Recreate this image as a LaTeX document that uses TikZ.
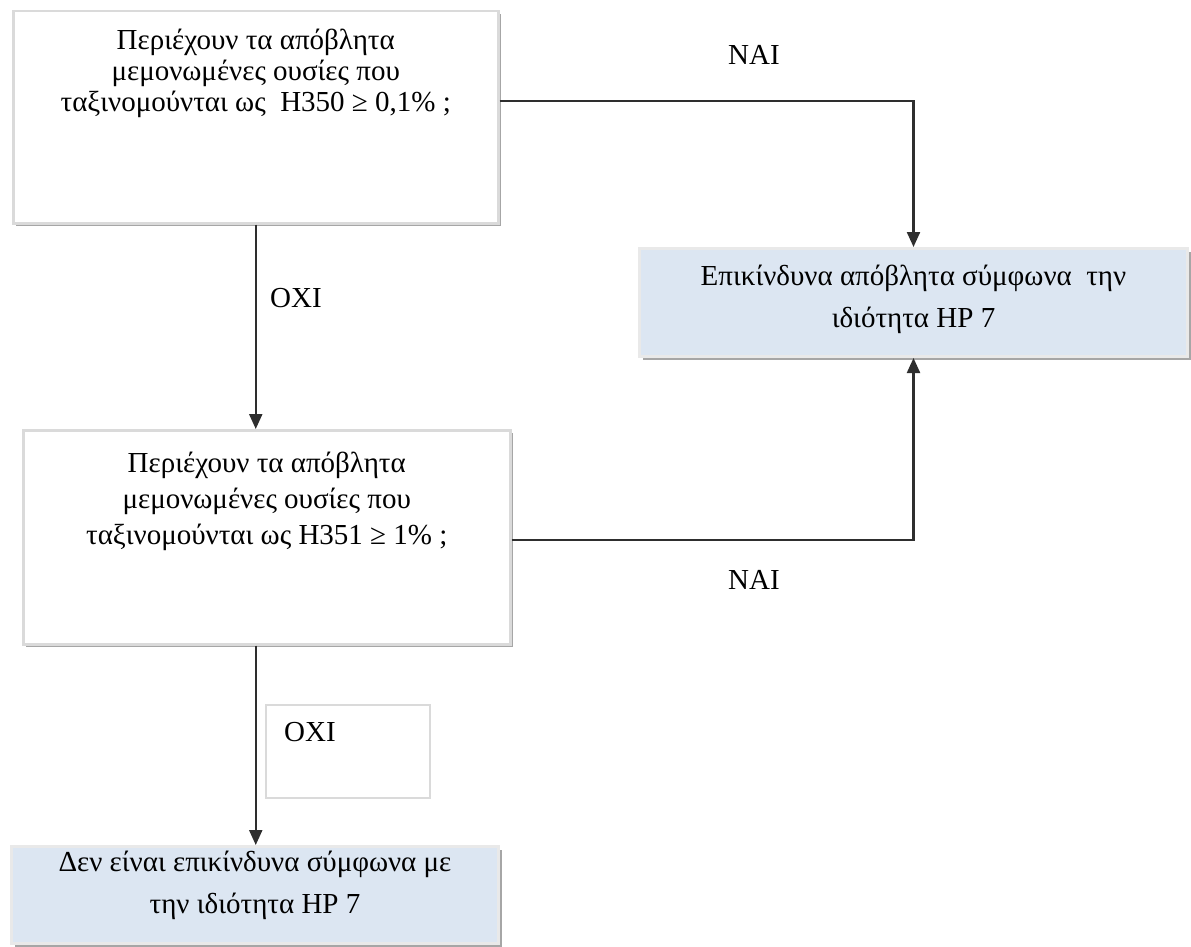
\documentclass[tikz,border=0pt]{standalone}
\usepackage{fontspec}
\setmainfont{Liberation Serif}
\usetikzlibrary{arrows.meta,calc}
\definecolor{resultblue}{HTML}{DCE6F2}
\definecolor{edgegray}{HTML}{DADADA}
\definecolor{shadowgray}{HTML}{A6A6A6}
\definecolor{linegray}{HTML}{2E2E2E}
\begin{document}
\begin{tikzpicture}[x=1pt,y=-1pt,
  qbox/.style={draw=edgegray, fill=white, line width=2.5pt, anchor=north west, inner sep=0pt},
  rbox/.style={draw=edgegray!60, fill=resultblue, line width=3pt, anchor=north west, inner sep=0pt},
  shadowed/.style={preaction={fill=shadowgray, transform canvas={xshift=3pt,yshift=-3pt}}},
  qtext/.style={align=center, inner sep=0pt, anchor=north},
  rtext/.style={align=center, font=\fontsize{29}{42}\selectfont, inner sep=0pt, anchor=north},
  lbl/.style={font=\fontsize{29}{30}\selectfont, inner sep=0pt},
  conn/.style={draw=linegray, line width=2.2pt, -{Triangle[width=13pt,length=15pt]}}]
\useasboundingbox (0,0) rectangle (1191,947);

% question boxes
\node[qbox, shadowed, minimum width=485pt, minimum height=212pt] (b1) at (12,10) {};
\node[qtext, font=\fontsize{29}{31}\selectfont] (t1) at ($(b1.north)+(0,19)$) {Περιέχουν τα απόβλητα\\μεμονωμένες ουσίες που\\ταξινομούνται ως \ H350 ≥ 0,1\% ;};

\node[qbox, shadowed, minimum width=487pt, minimum height=214pt] (b3) at (22,429) {};
\node[qtext, font=\fontsize{29}{36}\selectfont] (t3) at ($(b3.north)+(0,23)$) {Περιέχουν τα απόβλητα\\μεμονωμένες ουσίες που\\ταξινομούνται ως H351 ≥ 1\% ;};

% result boxes
\node[rbox, shadowed, minimum width=548pt, minimum height=108pt] (b2) at (638,247) {};
\node[rtext] (t2) at ($(b2.north)+(0,18)$) {Επικίνδυνα απόβλητα σύμφωνα \ την\\ιδιότητα HP 7};

\node[rbox, shadowed, minimum width=487pt, minimum height=97pt] (b4) at (10,845) {};
\node[rtext] (t4) at ($(b4.north)+(0,6)$) {Δεν είναι επικίνδυνα σύμφωνα με\\την ιδιότητα HP 7};

% answer labels
\node[lbl] (nai1) at (754,55) {ΝΑΙ};
\node[lbl] (oxi1) at (296,298) {ΟΧΙ};
\node[lbl] (nai2) at (754,580) {ΝΑΙ};
\node[draw=edgegray, line width=1.5pt, anchor=north west, minimum width=164pt, minimum height=93pt, inner sep=0pt] (oxibox) at (265,704) {};
\node[lbl, anchor=west] (oxi2) at ($(oxibox.north west)+(19,28)$) {ΟΧΙ};

% connectors
\draw[conn] (b1.south) -- (b1.south |- b3.north);
\draw[conn] ([yshift=16pt]b1.east) -| (b2.north);
\draw[conn] ([yshift=-3pt]b3.east) -| (b2.south);
\draw[conn] (b1.south |- b3.south) -- (b1.south |- b4.north);
\end{tikzpicture}
\end{document}
